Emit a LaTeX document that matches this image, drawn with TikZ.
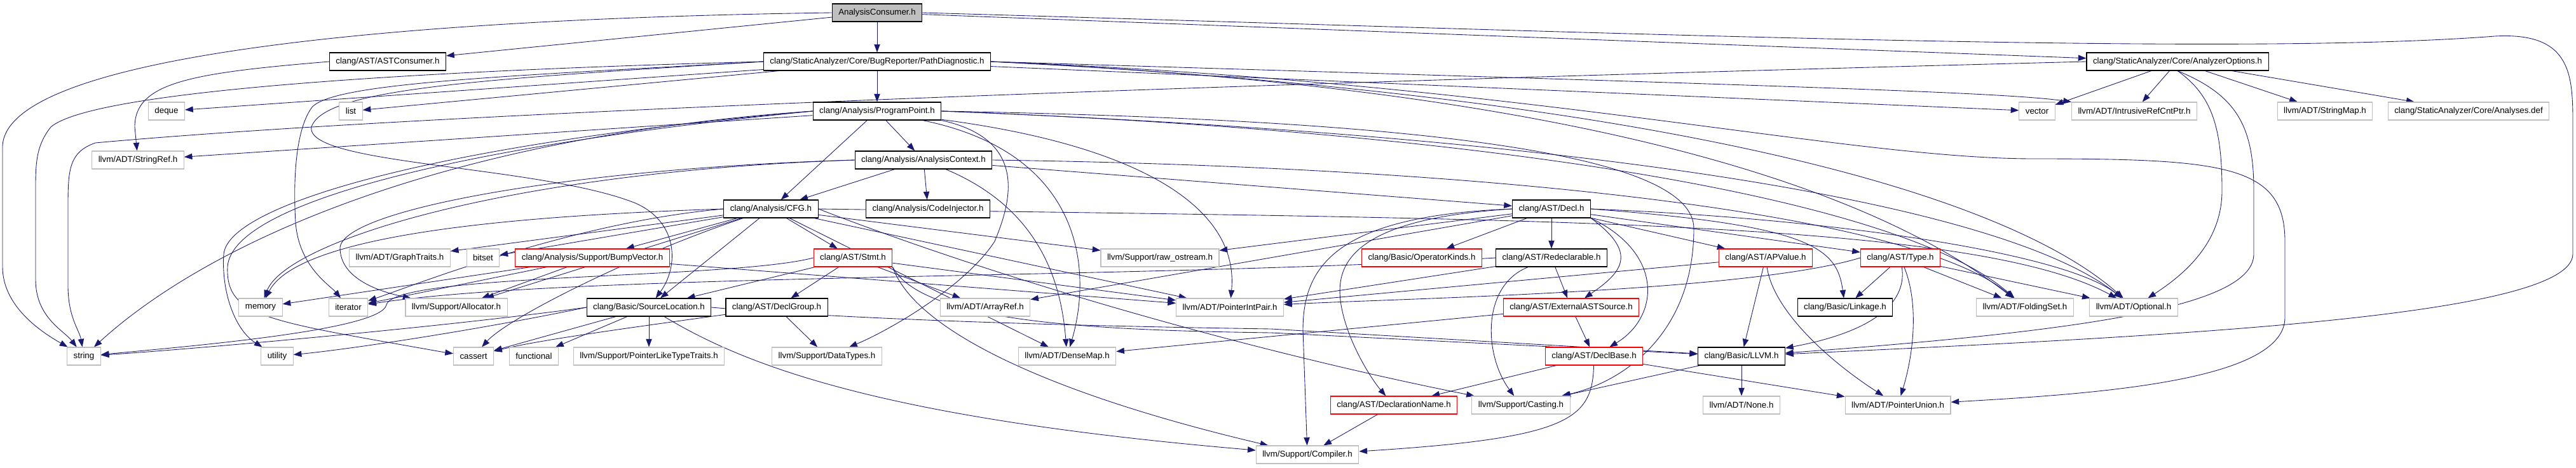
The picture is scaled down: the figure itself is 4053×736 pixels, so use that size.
\documentclass[tikz,border=0pt]{standalone}
\usepackage{fontspec}
\setmainfont{Liberation Sans}
\usetikzlibrary{arrows.meta,backgrounds}
\definecolor{dkblue}{RGB}{25,25,112}
\definecolor{boxgray}{RGB}{191,191,191}

\begin{document}
\begin{tikzpicture}[x=0.75pt,y=-0.75pt,
  file/.style={draw=boxgray, fill=white, line width=0.8pt, minimum height=21pt, inner xsep=7.5pt, inner ysep=0pt, font=\fontsize{10}{12}\selectfont},
  hdr/.style={file, draw=black},
  trunc/.style={file, draw=red},
  rootfile/.style={file, draw=black, fill=boxgray},
  dep/.style={draw=dkblue, line width=0.65pt, -{Triangle[length=9.5pt,width=7pt]}}]
  \useasboundingbox (0,0) rectangle (4053,736);

  \node[rootfile] (root) at (1380,20) {AnalysisConsumer.h};
  \node[hdr] (astc) at (610,97) {clang/AST/ASTConsumer.h};
  \node[hdr] (pathdiag) at (1380,97) {clang/StaticAnalyzer/Core/BugReporter/PathDiagnostic.h};
  \node[hdr] (anaopts) at (3426,97) {clang/StaticAnalyzer/Core/AnalyzerOptions.h};
  \node[file] (deque) at (262,175) {deque};
  \node[file] (list) at (552,175) {list};
  \node[hdr] (progpt) at (1380,175) {clang/Analysis/ProgramPoint.h};
  \node[file] (vector) at (3205,175) {vector};
  \node[file] (irefcnt) at (3358,175) {llvm/ADT/IntrusiveRefCntPtr.h};
  \node[file] (strmap) at (3658,175) {llvm/ADT/StringMap.h};
  \node[file] (analyses) at (3884,175) {clang/StaticAnalyzer/Core/Analyses.def};
  \node[file] (strref) at (217,252) {llvm/ADT/StringRef.h};
  \node[hdr] (anactx) at (1453,252) {clang/Analysis/AnalysisContext.h};
  \node[hdr] (cfg) at (1213,329) {clang/Analysis/CFG.h};
  \node[hdr] (codeinj) at (1460,329) {clang/Analysis/CodeInjector.h};
  \node[hdr] (decl) at (2441,329) {clang/AST/Decl.h};
  \node[file] (graphtr) at (629,406) {llvm/ADT/GraphTraits.h};
  \node[file] (bitset) at (760,406) {bitset};
  \node[trunc] (bumpvec) at (932,406) {clang/Analysis/Support/BumpVector.h};
  \node[trunc] (stmt) at (1342,406) {clang/AST/Stmt.h};
  \node[file] (rawos) at (1825,406) {llvm/Support/raw\_ostream.h};
  \node[trunc] (opkinds) at (2237,406) {clang/Basic/OperatorKinds.h};
  \node[hdr] (redecl) at (2441,406) {clang/AST/Redeclarable.h};
  \node[trunc] (apvalue) at (2778,406) {clang/AST/APValue.h};
  \node[trunc] (type) at (2990,406) {clang/AST/Type.h};
  \node[file] (memory) at (410,484) {memory};
  \node[file] (iterator) at (548,484) {iterator};
  \node[file] (alloc) at (718,484) {llvm/Support/Allocator.h};
  \node[hdr] (srcloc) at (1021,484) {clang/Basic/SourceLocation.h};
  \node[hdr] (declgrp) at (1222,484) {clang/AST/DeclGroup.h};
  \node[file] (arrayref) at (1550,484) {llvm/ADT/ArrayRef.h};
  \node[file] (ptrintpair) at (1935,484) {llvm/ADT/PointerIntPair.h};
  \node[trunc] (extsrc) at (2472,484) {clang/AST/ExternalASTSource.h};
  \node[hdr] (linkage) at (2903,484) {clang/Basic/Linkage.h};
  \node[file] (foldset) at (3186,484) {llvm/ADT/FoldingSet.h};
  \node[file] (optional) at (3357,484) {llvm/ADT/Optional.h};
  \node[file] (string) at (132,561) {string};
  \node[file] (utility) at (436,561) {utility};
  \node[file] (cassert) at (745,561) {cassert};
  \node[file] (functional) at (840,561) {functional};
  \node[file] (ptrlike) at (1021,561) {llvm/Support/PointerLikeTypeTraits.h};
  \node[file] (datatypes) at (1301,561) {llvm/Support/DataTypes.h};
  \node[file] (densemap) at (1679,561) {llvm/ADT/DenseMap.h};
  \node[trunc] (declbase) at (2508,561) {clang/AST/DeclBase.h};
  \node[hdr] (llvmh) at (2740,561) {clang/Basic/LLVM.h};
  \node[trunc] (declname) at (2193,638) {clang/AST/DeclarationName.h};
  \node[file] (casting) at (2393,638) {llvm/Support/Casting.h};
  \node[file] (none) at (2740,638) {llvm/ADT/None.h};
  \node[file] (ptrunion) at (2986,638) {llvm/ADT/PointerUnion.h};
  \node[file] (compiler) at (2057,716) {llvm/Support/Compiler.h};

  \begin{scope}[on background layer]
  \draw[dep] (root) -- (astc);
  \draw[dep] (root) -- (pathdiag);
  \draw[dep] (root) -- (anaopts);
  \draw[dep] (root.west) .. controls (600,30) and (10,90) .. (4,230) -- (4,420) .. controls (4,480) and (60,520) .. (string);
  \draw[dep] (root.east) .. controls (2500,50) and (3500,90) .. (3925,57) .. controls (4048,50) and (4048,120) .. (4048,200) -- (4048,400) .. controls (4048,500) and (3400,530) .. (llvmh);
  \draw[dep] (astc.west) .. controls (300,115) and (212,130) .. (212,200) -- (strref);

  \draw[dep] (pathdiag) -- (progpt);
  \draw[dep] (pathdiag) -- (deque);
  \draw[dep] (pathdiag) -- (list);
  \draw[dep] (pathdiag.west) .. controls (700,110) and (150,140) .. (80,200) .. controls (56,230) and (56,260) .. (56,300) -- (56,440) .. controls (56,500) and (100,520) .. (string);
  \draw[dep] (pathdiag.west) .. controls (800,120) and (520,130) .. (490,170) .. controls (462,210) and (462,300) .. (465,350) .. controls (470,420) and (520,450) .. (iterator);
  \draw[dep] (pathdiag.west) .. controls (750,125) and (510,140) .. (490,200) .. controls (480,260) and (850,260) .. (1000,320) .. controls (1068,350) and (1068,420) .. (srcloc);
  \draw[dep] (pathdiag) -- (vector);
  \draw[dep] (pathdiag.east) .. controls (2800,135) and (3150,145) .. (irefcnt.north west);
  \draw[dep] (pathdiag.east) .. controls (2500,140) and (2950,300) .. (foldset);
  \draw[dep] (pathdiag.east) .. controls (2600,150) and (3150,300) .. (optional);
  \draw[dep] (pathdiag.east) .. controls (2400,130) and (2900,250) .. (3200,250) .. controls (3500,250) and (3595,260) .. (3595,380) -- (3595,500) .. controls (3595,600) and (3300,620) .. (ptrunion);

  \draw[dep] (anaopts) -- (vector);
  \draw[dep] (anaopts) -- (irefcnt);
  \draw[dep] (anaopts) -- (strmap);
  \draw[dep] (anaopts) -- (analyses);
  \draw[dep] (anaopts.south) .. controls (3480,150) and (3496,200) .. (3496,300) .. controls (3496,380) and (3440,430) .. (optional);
  \draw[dep] (anaopts.south) .. controls (3520,150) and (3546,200) .. (3546,300) -- (3546,400) .. controls (3546,480) and (3300,520) .. (llvmh);
  \draw[dep] (anaopts.west) .. controls (2000,130) and (700,175) .. (150,225) .. controls (107,240) and (107,270) .. (107,330) -- (107,450) .. controls (107,500) and (125,520) .. (string);

  \draw[dep] (progpt) -- (anactx);
  \draw[dep] (progpt) -- (cfg);
  \draw[dep] (progpt) -- (strref);
  \draw[dep] (progpt.west) .. controls (700,215) and (330,380) .. (string);
  \draw[dep] (progpt.west) .. controls (700,225) and (360,320) .. (352,400) .. controls (348,460) and (370,520) .. (utility);
  \draw[dep] (progpt.west) .. controls (720,230) and (365,320) .. (358,420) .. controls (355,500) and (420,505) .. (700,555) -- (cassert);
  \draw[dep] (progpt) .. controls (1700,240) and (1720,420) .. (densemap);
  \draw[dep] (progpt) .. controls (1800,230) and (1950,330) .. (ptrintpair);
  \draw[dep] (progpt.south east) .. controls (1620,220) and (1590,320) .. (1565,380) .. controls (1520,450) and (1400,520) .. (datatypes);
  \draw[dep] (progpt.east) .. controls (2400,210) and (3000,320) .. (foldset);
  \draw[dep] (progpt.east) .. controls (2500,215) and (3150,320) .. (optional);
  \draw[dep] (progpt.east) .. controls (2300,190) and (2665,250) .. (2665,360) .. controls (2665,520) and (2560,600) .. (casting);

  \draw[dep] (anactx) -- (cfg);
  \draw[dep] (anactx) -- (codeinj);
  \draw[dep] (anactx) -- (decl);
  \draw[dep] (anactx) .. controls (1640,330) and (1670,450) .. (densemap);
  \draw[dep] (anactx.west) .. controls (900,265) and (540,330) .. (535,390) .. controls (535,440) and (600,460) .. (alloc);
  \draw[dep] (anactx.west) .. controls (800,270) and (450,380) .. (memory);
  \draw[dep] (anactx.east) .. controls (2300,262) and (3000,330) .. (foldset);

  \draw[dep] (cfg) -- (graphtr);
  \draw[dep] (cfg) -- (bitset);
  \draw[dep] (cfg) -- (bumpvec);
  \draw[dep] (cfg) -- (stmt);
  \draw[dep] (cfg) -- (srcloc);
  \draw[dep] (cfg) -- (rawos);
  \draw[dep] (cfg) -- (ptrintpair);
  \draw[dep] (cfg) -- (densemap);
  \draw[dep] (cfg) -- (alloc);
  \draw[dep] (cfg.west) .. controls (800,340) and (470,370) .. (memory);
  \draw[dep] (cfg.west) .. controls (900,350) and (650,450) .. (iterator);
  \draw[dep] (cfg) .. controls (1000,400) and (800,500) .. (cassert);
  \draw[dep] (cfg.east) .. controls (2400,345) and (3100,345) .. (optional);
  \draw[dep] (cfg.east) .. controls (1600,450) and (2000,560) .. (casting);

  \draw[dep] (bumpvec) -- (memory);
  \draw[dep] (bumpvec) -- (iterator);
  \draw[dep] (bumpvec) -- (alloc);
  \draw[dep] (bumpvec) -- (ptrintpair);

  \draw[dep] (stmt) -- (srcloc);
  \draw[dep] (stmt) -- (declgrp);
  \draw[dep] (stmt) -- (arrayref);
  \draw[dep] (stmt) -- (ptrintpair);
  \draw[dep] (stmt.south east) .. controls (1440,520) and (1650,620) .. (compiler);
  \draw[dep] (stmt.south east) .. controls (1450,505) and (1700,520) .. (2000,524) -- (llvmh);
  \draw[dep] (stmt.west) .. controls (1150,440) and (620,430) .. (608,480) .. controls (600,520) and (300,545) .. (string);

  \draw[dep] (declgrp) -- (datatypes);
  \draw[dep] (declgrp) .. controls (1000,515) and (850,535) .. (cassert);

  \draw[dep] (srcloc) -- (cassert);
  \draw[dep] (srcloc) -- (functional);
  \draw[dep] (srcloc) -- (ptrlike);
  \draw[dep] (srcloc) .. controls (1180,580) and (1400,660) .. (compiler);
  \draw[dep] (srcloc.east) .. controls (1300,500) and (1600,512) .. (2000,518) -- (llvmh);
  \draw[dep] (srcloc.west) .. controls (700,515) and (300,550) .. (string);
  \draw[dep] (srcloc.west) .. controls (750,520) and (550,550) .. (utility);

  \draw[dep] (decl) -- (opkinds);
  \draw[dep] (decl) -- (redecl);
  \draw[dep] (decl.south east) .. controls (2580,400) and (2550,430) .. (extsrc);
  \draw[dep] (decl.south east) .. controls (2620,400) and (2610,500) .. (declbase);
  \draw[dep] (decl) -- (apvalue);
  \draw[dep] (decl) -- (type);
  \draw[dep] (decl.east) .. controls (2850,355) and (2890,390) .. (linkage);
  \draw[dep] (decl.east) .. controls (2900,345) and (3250,400) .. (optional);
  \draw[dep] (decl) -- (rawos);
  \draw[dep] (decl) -- (arrayref);
  \draw[dep] (decl.west) .. controls (2100,340) and (2050,420) .. (2050,520) -- (compiler);
  \draw[dep] (decl.west) .. controls (2120,345) and (2100,420) .. (2110,480) .. controls (2120,540) and (2160,600) .. (declname);

  \draw[dep] (redecl) -- (extsrc);
  \draw[dep] (redecl) -- (ptrintpair);
  \draw[dep] (redecl) .. controls (2330,450) and (2335,560) .. (casting);
  \draw[dep] (redecl.west) .. controls (1800,440) and (900,430) .. (iterator);

  \draw[dep] (extsrc) -- (declbase);
  \draw[dep] (extsrc) -- (densemap);

  \draw[dep] (apvalue) -- (llvmh);
  \draw[dep] (apvalue) -- (ptrintpair);
  \draw[dep] (apvalue) .. controls (2790,490) and (2880,570) .. (ptrunion);

  \draw[dep] (type) -- (linkage);
  \draw[dep] (type) -- (foldset);
  \draw[dep] (type) -- (optional);
  \draw[dep] (type) .. controls (3000,470) and (2960,520) .. (llvmh);
  \draw[dep] (type) .. controls (3020,480) and (3010,560) .. (ptrunion);
  \draw[dep] (type.west) .. controls (2750,460) and (2200,470) .. (ptrintpair);

  \draw[dep] (declbase) -- (declname);
  \draw[dep] (declbase) -- (ptrunion);
  \draw[dep] (declbase) .. controls (2505,660) and (2470,690) .. (compiler);
  \draw[dep] (declname) -- (compiler);
  \draw[dep] (llvmh) -- (none);
  \draw[dep] (llvmh) -- (casting);
  \end{scope}
\end{tikzpicture}
\end{document}
